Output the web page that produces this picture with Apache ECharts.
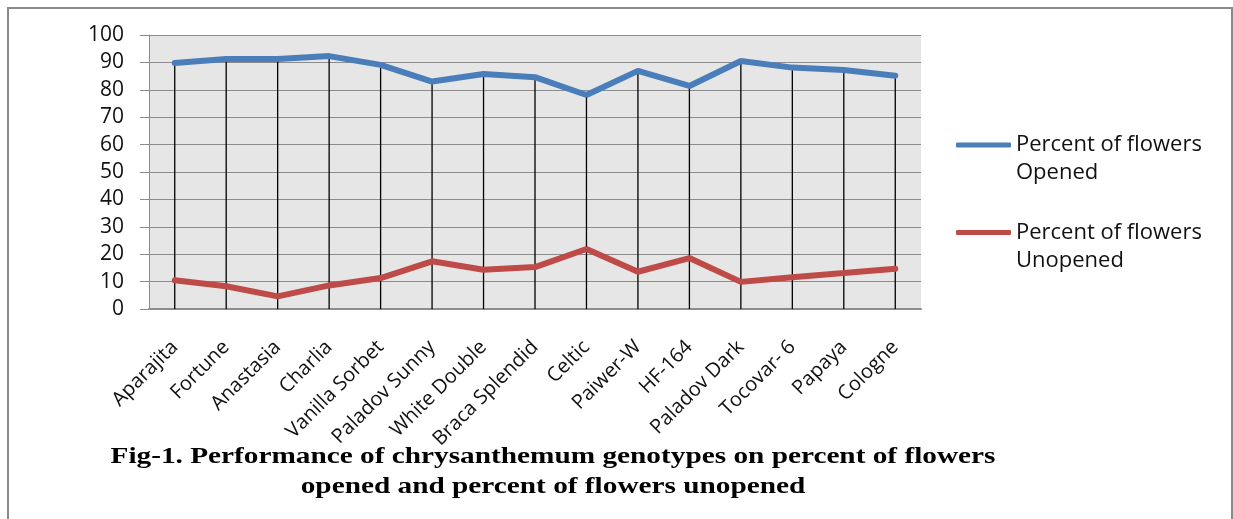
<!DOCTYPE html>
<html><head><meta charset="utf-8">
<script src="https://cdn.jsdelivr.net/npm/echarts@6/dist/echarts.min.js"></script>
<style>html,body{margin:0;padding:0;background:#fff}#c{width:1233px;height:519px}</style>
</head><body><div id="c"></div>
<script>
const categories = ['Aparajita','Fortune','Anastasia','Charlia','Vanilla Sorbet','Paladov Sunny','White Double','Braca Splendid','Celtic','Paiwer-W','HF-164','Paladov Dark','Tocovar- 6','Papaya','Cologne'];
const opened = [89.8, 91.2, 91.2, 92.3, 89.1, 83.0, 85.8, 84.6, 78.1, 86.9, 81.4, 90.5, 88.1, 87.2, 85.1];
const unopened = [10.5, 8.3, 4.6, 8.6, 11.3, 17.4, 14.3, 15.3, 21.9, 13.6, 18.6, 9.9, 11.6, 13.1, 14.7];
const yTicks = [0, 100, 10];
const seriesNames = ['Percent of flowers\nOpened', 'Percent of flowers\nUnopened'];
const titleText = 'Fig-1. Performance of chrysanthemum genotypes on percent of flowers\nopened and percent of flowers unopened';

const chart = echarts.init(document.getElementById('c'));
const font = 'Open Sans';
chart.setOption({
  animation: false,
  backgroundColor: '#fff',
  grid: { left: 149, right: 312, top: 35, bottom: 210, show: true, backgroundColor: '#e6e6e6', borderWidth: 0 },
  legend: {
    data: seriesNames,
    orient: 'vertical', left: 951, top: 98, itemGap: 3.5,
    itemWidth: 55, itemHeight: 5, icon: 'roundRect',
    formatter: function (name) { return ' \n' + name; },
    textStyle: { fontFamily: font, fontSize: 22, color: '#111', lineHeight: 28 }
  },
  xAxis: {
    type: 'category', data: categories, boundaryGap: true,
    axisLine: { lineStyle: { color: '#8c8c8c', width: 2 } },
    axisTick: { show: false },
    axisLabel: { rotate: 45, interval: 0, margin: 35, fontFamily: font, fontSize: 20, color: '#111' },
    splitLine: { show: false }
  },
  yAxis: {
    type: 'value', min: yTicks[0], max: yTicks[1], interval: yTicks[2],
    axisLine: { show: true, lineStyle: { color: '#8c8c8c', width: 1 } },
    axisTick: { show: true, length: 9, lineStyle: { color: '#8c8c8c' } },
    axisLabel: { margin: 25, fontFamily: font, fontSize: 21, color: '#111' },
    splitLine: { lineStyle: { color: '#8c8c8c', width: 1 } }
  },
  series: [
    { name: 'drop', type: 'bar', data: opened, barWidth: 1.3, itemStyle: { color: '#000' }, z: 1, silent: true },
    { name: seriesNames[0], type: 'line', data: opened, symbol: 'none', lineStyle: { color: '#4a7ebb', width: 6, cap: 'round' }, itemStyle: { color: '#4a7ebb' }, z: 3 },
    { name: seriesNames[1], type: 'line', data: unopened, symbol: 'none', lineStyle: { color: '#be4b48', width: 6, cap: 'round' }, itemStyle: { color: '#be4b48' }, z: 3 }
  ],
  graphic: [
    { type: 'rect', shape: { x: 8, y: 8, width: 1224, height: 530 }, style: { fill: 'none', stroke: '#8a8a8a', lineWidth: 2 }, z: -1 },
    { type: 'text', x: 553, y: 442, scaleX: 1.22, style: { text: titleText, align: 'center', verticalAlign: 'top', font: 'bold 24px "Liberation Serif"', lineHeight: 30, fill: '#000' } }
  ]
});
</script></body></html>
